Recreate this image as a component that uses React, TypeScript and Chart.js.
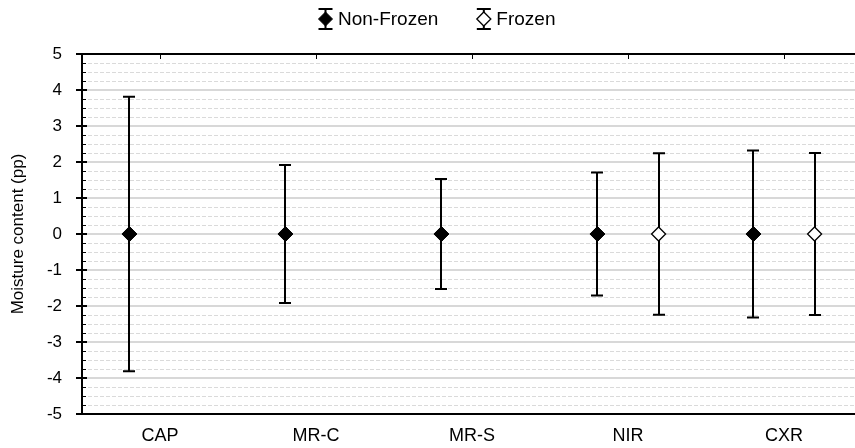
import React, { useEffect, useRef } from "react";
import { Chart, registerables } from "chart.js";

Chart.register(...registerables);

// ---- data ----
const categories = ["CAP", "MR-C", "MR-S", "NIR", "CXR"];
const seriesNames = ["Non-Frozen", "Frozen"];
const nonFrozenMean = [0, 0, 0, 0, 0];
const nonFrozenErr = [3.81, 1.92, 1.53, 1.71, 2.32];
const frozenMean: (number | null)[] = [null, null, null, 0, 0];
const frozenErr: (number | null)[] = [null, null, null, 2.24, 2.25];
const yTickValues = [-5, -4, -3, -2, -1, 0, 1, 2, 3, 4, 5];
const yAxisTitle = "Moisture content (pp)";

const FONT = "'Liberation Sans', Arial, Helvetica, sans-serif";
const GROUP_OFFSET = 0.196;

function buildPoints(means: (number | null)[], errs: (number | null)[], offset: number) {
  const pts: { x: number; y: number; err: number }[] = [];
  means.forEach((m, i) => {
    if (m === null || errs[i] === null) return;
    pts.push({ x: i + offset, y: m as number, err: errs[i] as number });
  });
  return pts;
}

function drawDiamond(ctx: CanvasRenderingContext2D, x: number, y: number, r: number, fill: string, lw: number) {
  ctx.beginPath();
  ctx.moveTo(x, y - r);
  ctx.lineTo(x + r, y);
  ctx.lineTo(x, y + r);
  ctx.lineTo(x - r, y);
  ctx.closePath();
  ctx.fillStyle = fill;
  ctx.fill();
  ctx.lineWidth = lw;
  ctx.strokeStyle = "#000";
  ctx.stroke();
}

const framePlugin = {
  id: "frameAndBars",
  beforeDatasetsDraw(chart: any) {
    const { ctx, chartArea } = chart;
    const { left, right, top, bottom } = chartArea;
    const ys = chart.scales.y;
    const xs = chart.scales.x;
    ctx.save();
    // minor gridlines
    for (let v = ys.min; v <= ys.max + 1e-9; v += 0.25) {
      if (Number.isInteger(v)) continue;
      const py = Math.round(ys.getPixelForValue(v)) + 0.5;
      ctx.beginPath();
      ctx.setLineDash([4, 2]);
      ctx.strokeStyle = "#dadada";
      ctx.lineWidth = 1;
      ctx.moveTo(left, py);
      ctx.lineTo(right, py);
      ctx.stroke();
    }
    ctx.setLineDash([]);
    // major gridlines
    yTickValues.forEach((v) => {
      if (v === ys.min || v === ys.max) return;
      const py = Math.round(ys.getPixelForValue(v));
      ctx.beginPath();
      ctx.strokeStyle = "#d8d8d8";
      ctx.lineWidth = 2;
      ctx.moveTo(left, py);
      ctx.lineTo(right, py);
      ctx.stroke();
    });
    // frame: left, top, bottom
    ctx.strokeStyle = "#000";
    ctx.lineWidth = 2;
    ctx.beginPath();
    ctx.moveTo(left, top);
    ctx.lineTo(right, top);
    ctx.moveTo(left, bottom);
    ctx.lineTo(right, bottom);
    ctx.moveTo(left, top - 1);
    ctx.lineTo(left, bottom + 1);
    ctx.stroke();
    // left major ticks (both sides) and minor ticks (inside)
    ctx.lineWidth = 2;
    yTickValues.forEach((v) => {
      const py = Math.round(ys.getPixelForValue(v));
      ctx.beginPath();
      ctx.moveTo(left - 6, py);
      ctx.lineTo(left + 5, py);
      ctx.stroke();
    });
    ctx.lineWidth = 1;
    for (let v = ys.min; v <= ys.max + 1e-9; v += 0.25) {
      if (Number.isInteger(v)) continue;
      const py = Math.round(ys.getPixelForValue(v)) + 0.5;
      ctx.beginPath();
      ctx.moveTo(left, py);
      ctx.lineTo(left + 4, py);
      ctx.stroke();
    }
    // top inner ticks at category centers
    ctx.lineWidth = 1;
    categories.forEach((_, i) => {
      const px = Math.round(xs.getPixelForValue(i)) + 0.5;
      ctx.beginPath();
      ctx.moveTo(px, top);
      ctx.lineTo(px, top + 5);
      ctx.stroke();
    });
    // error bars
    ctx.lineWidth = 2;
    chart.data.datasets.forEach((ds: any) => {
      ds.data.forEach((p: any) => {
        const px = Math.round(xs.getPixelForValue(p.x));
        const yHi = ys.getPixelForValue(p.y + p.err);
        const yLo = ys.getPixelForValue(p.y - p.err);
        ctx.beginPath();
        ctx.moveTo(px, yHi);
        ctx.lineTo(px, yLo);
        ctx.moveTo(px - 6, yHi);
        ctx.lineTo(px + 6, yHi);
        ctx.moveTo(px - 6, yLo);
        ctx.lineTo(px + 6, yLo);
        ctx.stroke();
      });
    });
    ctx.restore();
  },
  afterDraw(chart: any) {
    const { ctx } = chart;
    ctx.save();
    const cy = 19;
    const fills = ["#000", "#fff"];
    const widths = [1, 1.3];
    let x = 318;
    ctx.font = `19px ${FONT}`;
    ctx.textBaseline = "middle";
    ctx.textAlign = "left";
    seriesNames.forEach((name, i) => {
      const cx = x + 7.5;
      ctx.strokeStyle = "#000";
      ctx.lineWidth = 2;
      ctx.beginPath();
      ctx.moveTo(cx, cy - 10);
      ctx.lineTo(cx, cy + 10);
      ctx.moveTo(cx - 7, cy - 10);
      ctx.lineTo(cx + 7, cy - 10);
      ctx.moveTo(cx - 7, cy + 10);
      ctx.lineTo(cx + 7, cy + 10);
      ctx.stroke();
      drawDiamond(ctx, cx, cy, 7, fills[i], widths[i]);
      ctx.fillStyle = "#000";
      ctx.fillText(name, x + 20, cy + 1);
      const w = ctx.measureText(name).width;
      x = x + 20 + w + 38;
    });
    ctx.restore();
  },
};

export default function App() {
  const canvasRef = useRef<HTMLCanvasElement | null>(null);

  useEffect(() => {
    if (!canvasRef.current) return;
    Chart.defaults.font.family = FONT;
    const chart = new Chart(canvasRef.current, {
      type: "scatter",
      data: {
        datasets: [
          {
            label: seriesNames[0],
            data: buildPoints(nonFrozenMean, nonFrozenErr, -GROUP_OFFSET) as any,
            pointStyle: "rectRot",
            pointRadius: 7.5,
            pointBackgroundColor: "#000",
            pointBorderColor: "#000",
            pointBorderWidth: 1,
          },
          {
            label: seriesNames[1],
            data: buildPoints(frozenMean, frozenErr, GROUP_OFFSET) as any,
            pointStyle: "rectRot",
            pointRadius: 7,
            pointBackgroundColor: "#fff",
            pointBorderColor: "#000",
            pointBorderWidth: 1.3,
          },
        ],
      },
      options: {
        responsive: false,
        animation: false,
        devicePixelRatio: 1,
        layout: { autoPadding: false, padding: { top: 54, left: 0, right: 0, bottom: 0 } } as any,
        plugins: {
          legend: { display: false },
          tooltip: { enabled: false },
        },
        scales: {
          x: {
            type: "linear",
            position: "bottom",
            min: -0.5,
            max: 4.455,
            afterBuildTicks: (scale: any) => {
              scale.ticks = categories.map((_, i) => ({ value: i }));
            },
            afterFit: (scale: any) => {
              scale.height = 34;
            },
            ticks: {
              autoSkip: false,
              maxRotation: 0,
              padding: 11,
              color: "#000",
              font: { size: 18, family: FONT },
              callback: (v: any) => categories[Math.round(Number(v))] ?? "",
            },
            grid: { display: false, drawTicks: false },
            border: { display: false },
          },
          y: {
            min: -5,
            max: 5,
            afterBuildTicks: (scale: any) => {
              scale.ticks = yTickValues.map((v) => ({ value: v }));
            },
            afterFit: (scale: any) => {
              scale.width = 82;
            },
            ticks: {
              autoSkip: false,
              padding: 20,
              color: "#000",
              font: { size: 17, family: FONT },
              callback: (v: any) => String(v),
            },
            grid: { display: false, drawTicks: false },
            border: { display: false },
            title: {
              display: true,
              text: yAxisTitle,
              color: "#000",
              font: { size: 17, family: FONT },
              padding: { top: 8, bottom: 0 },
            },
          },
        },
      },
      plugins: [framePlugin],
    });
    return () => chart.destroy();
  }, []);

  return (
    <div style={{ position: "absolute", left: 0, top: 0, width: 855, height: 448, background: "#fff" }}>
      <canvas ref={canvasRef} width={855} height={448} />
    </div>
  );
}
